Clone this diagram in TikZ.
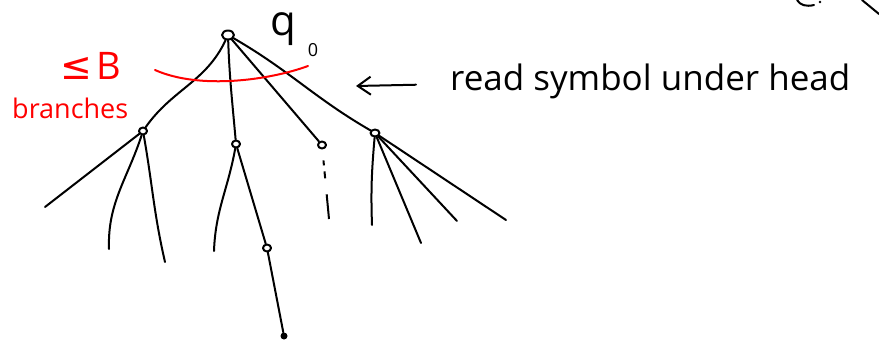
\documentclass[tikz,border=0pt]{standalone}
\usepackage{fontspec}
\setmainfont{Open Sans}
\newfontfamily\symfont{DejaVu Sans}
\usetikzlibrary{shapes.geometric,arrows.meta}
\tikzset{
  pen/.style={line width=2pt, line cap=round, line join=round},
  vtx/.style={ellipse, draw, pen, inner sep=0pt, minimum width=8pt, minimum height=7pt},
  redpen/.style={pen, draw=red, line width=2pt},
  handarrow/.style={pen, -{Straight Barb[length=13pt, width=18pt, line width=2pt]}}
}
\begin{document}
\begin{tikzpicture}[x=1pt, y=-1pt]
\useasboundingbox (0,0) rectangle (879,340);

% configurations of the computation tree
\node[vtx, minimum width=12pt, minimum height=9pt] (r) at (228,35) {};
\node[vtx] (a) at (143,131) {};
\node[vtx] (b) at (236,144) {};
\node[vtx] (c) at (322,145) {};
\node[vtx, minimum width=9pt] (d) at (375,133) {};
\node[vtx] (e) at (267,248) {};
\node[circle, fill, inner sep=0pt, minimum size=7pt] (f) at (284,336) {};

% loose ends of unfinished branches
\coordinate (a1) at (45,207);
\coordinate (a2) at (109,249);
\coordinate (a3) at (165,262);
\coordinate (b1) at (214,251);
\coordinate (c1) at (329,219);
\coordinate (d1) at (372,225);
\coordinate (d2) at (421,243);
\coordinate (d3) at (457,221);
\coordinate (d4) at (506,220);

% edges from the start configuration
\draw[pen] (r) to[out=-115, in=55] (a);
\draw[pen] (r) to[out=-88, in=95] (b);
\draw[pen] (r) -- (c);
\draw[pen] (r) to[out=-30, in=150] (d);

% edges further down
\draw[pen] (a) -- (a1);
\draw[pen] (a) to[out=-108, in=92] (a2);
\draw[pen] (a) to[out=-80, in=103] (a3);
\draw[pen] (b) to[out=-100, in=88] (b1);
\draw[pen] (b) -- (e);
\draw[pen] (e) -- (f);
\draw[pen, line cap=butt, dash pattern=on 0pt off 11pt on 5pt off 6pt on 7pt off 16pt on 26pt] (c) -- (c1);
\draw[pen] (d) to[out=-95, in=92] (d1);
\draw[pen] (d) -- (d2);
\draw[pen] (d) -- (d3);
\draw[pen] (d) -- (d4);

% state label
\node[anchor=base west, inner sep=0pt, font=\fontsize{42}{44}\selectfont] (q) at (270,35) {q\kern12pt\raisebox{-21pt}{\fontsize{18}{19}\selectfont 0}};

% branching bound
\draw[redpen] (155,70) .. controls (200,90) and (270,80) .. (308,66);
\node[text=red, anchor=base west, inner sep=0pt, font=\fontsize{38}{40}\selectfont] (bound) at (60,79) {{\symfont ≤}\kern4pt B};
\node[text=red, anchor=base west, inner sep=0pt, font=\fontsize{27}{29}\selectfont] (br) at (12,118) {branches};

% annotation for the transition step
\node[anchor=base west, inner sep=0pt, font=\fontsize{35}{37}\selectfont] (head) at (450,90) {read symbol under head};
\coordinate (tip) at (356,86);
\draw[handarrow, shorten <=34pt] (head.west |- 0,84) -- (tip);

% strokes running off the top edge
\draw[pen] (797,0) .. controls (800,5) and (806,7) .. (814,5);
\fill (820,2) circle (1.4pt);
\draw[pen] (862,0) -- (879,14);
\end{tikzpicture}
\end{document}
